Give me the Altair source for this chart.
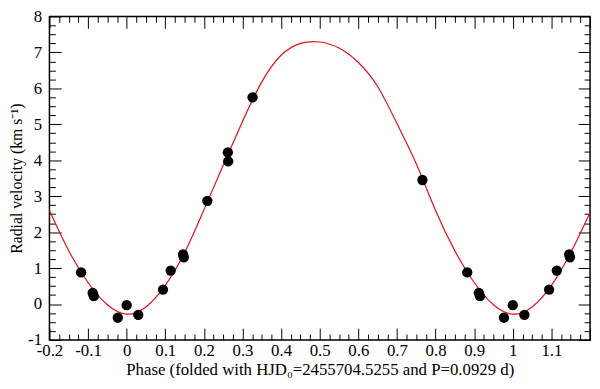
import altair as alt
import pandas as pd

# Fitted radial-velocity curve
curve_phase = [-0.2, -0.15, -0.1, -0.05, 0.0, 0.05, 0.1, 0.15, 0.2, 0.25, 0.3, 0.35, 0.4, 0.45, 0.5,
               0.55, 0.6, 0.65, 0.7, 0.75, 0.8, 0.85, 0.9, 0.95, 1.0, 1.05, 1.1, 1.15, 1.2]
curve_rv = [2.6, 1.48, 0.6, -0.02, -0.28, -0.08, 0.52, 1.43, 2.62, 3.86, 5.08, 6.18, 6.92, 7.25, 7.29,
            7.12, 6.72, 6.05, 5.02, 3.9, 2.6, 1.48, 0.6, -0.02, -0.28, -0.08, 0.52, 1.43, 2.55]

# Observed points (as plotted, including the folded copies)
pt_phase = [-0.118, -0.088, -0.085, -0.023, 0.0, 0.030, 0.094, 0.114, 0.146, 0.148, 0.209, 0.262,
            0.263, 0.326, 0.766, 0.882, 0.912, 0.915, 0.977, 1.0, 1.030, 1.094, 1.114, 1.146, 1.148]
pt_rv = [0.88, 0.31, 0.22, -0.38, -0.03, -0.30, 0.40, 0.93, 1.38, 1.30, 2.87, 4.22,
         3.97, 5.75, 3.45, 0.88, 0.31, 0.22, -0.38, -0.03, -0.30, 0.40, 0.93, 1.38, 1.30]

x_label_values = [-0.2, -0.1, 0.0, 0.1, 0.2, 0.3, 0.4, 0.5, 0.6, 0.7, 0.8, 0.9, 1.0, 1.1]
y_label_values = [-1, 0, 1, 2, 3, 4, 5, 6, 7, 8]
x_tick_values = [round(-0.2 + 0.025 * i, 4) for i in range(57)]
y_tick_values = [-1 + 0.25 * i for i in range(37)]

x_title = "Phase (folded with HJD\u2080=2455704.5255 and P=0.0929 d)"
y_title = "Radial velocity (km s\u207b\u00b9)"

W, H = 548, 328
FONT = "Liberation Serif, Times New Roman, Times, serif"

curve_df = pd.DataFrame({"phase": curve_phase, "rv": curve_rv})
pts_df = pd.DataFrame({"phase": pt_phase, "rv": pt_rv})

xscale = alt.Scale(domain=[-0.2, 1.2], nice=False, zero=False)
yscale = alt.Scale(domain=[-1, 8], nice=False, zero=False)

x_major = "abs(datum.value*10 - round(datum.value*10)) < 0.001"
y_major = "abs(datum.value - round(datum.value)) < 0.001"
tick_common = dict(labels=False, domain=False, grid=False, title=None,
                   tickColor="black", tickWidth=1)

# Layer 1: curve, with label axes (no ticks)
curve = alt.Chart(curve_df).mark_line(color="#e8101a", strokeWidth=1.2,
                                      interpolate="natural").encode(
    x=alt.X("phase:Q", scale=xscale,
            axis=alt.Axis(orient="bottom", values=x_label_values, ticks=False, domain=False,
                          grid=False, labelExpr="toString(round(datum.value*10)/10)",
                          labelFont=FONT, labelFontSize=17, labelColor="black",
                          labelPadding=3, labelFlush=False, labelOverlap=False,
                          title=x_title, titleFont=FONT, titleFontSize=17,
                          titleFontWeight="normal", titleColor="black", titlePadding=3)),
    y=alt.Y("rv:Q", scale=yscale,
            axis=alt.Axis(orient="left", values=y_label_values, ticks=False, domain=False,
                          grid=False, labelExpr="toString(datum.value)",
                          labelFont=FONT, labelFontSize=17, labelColor="black",
                          labelPadding=8, labelFlush=False, labelOverlap=False,
                          title=y_title, titleFont=FONT, titleFontSize=16,
                          titleFontWeight="normal", titleColor="black", titlePadding=3)),
)

# Layer 2: points, with inward ticks from bottom and left edges
points = alt.Chart(pts_df).mark_circle(size=110, color="black", opacity=1).encode(
    x=alt.X("phase:Q", scale=xscale,
            axis=alt.Axis(orient="top", offset=-H, values=x_tick_values,
                          tickSize={"condition": {"test": x_major, "value": 12}, "value": 6},
                          **tick_common)),
    y=alt.Y("rv:Q", scale=yscale,
            axis=alt.Axis(orient="right", offset=-W, values=y_tick_values,
                          tickSize={"condition": {"test": y_major, "value": 12}, "value": 6},
                          **tick_common)),
)

# Layer 3: invisible, carrying inward ticks from top and right edges
ghost = alt.Chart(pts_df).mark_point(opacity=0).encode(
    x=alt.X("phase:Q", scale=xscale,
            axis=alt.Axis(orient="bottom", offset=-H, values=x_tick_values,
                          tickSize={"condition": {"test": x_major, "value": 12}, "value": 6},
                          **tick_common)),
    y=alt.Y("rv:Q", scale=yscale,
            axis=alt.Axis(orient="left", offset=-W, values=y_tick_values,
                          tickSize={"condition": {"test": y_major, "value": 12}, "value": 6},
                          **tick_common)),
)

chart = alt.layer(curve, points, ghost).resolve_axis(
    x="independent", y="independent"
).properties(
    width=W, height=H,
    autosize=alt.AutoSizeParams(type="none"),
    padding={"left": 42, "top": 6, "right": 2, "bottom": 39},
    background="white",
).configure(font=FONT).configure_axis(
    labelFont=FONT, titleFont=FONT
).configure_view(stroke="black", strokeWidth=1.5)

chart.save("out.html", embed_options={"renderer": "svg", "actions": False})
